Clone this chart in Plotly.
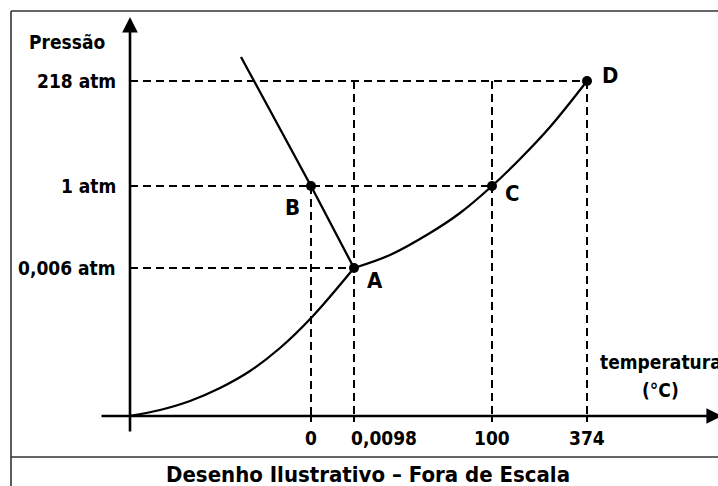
import plotly.graph_objects as go

# ---- data (schematic diagram units: origin at the axes crossing, not to scale) ----
temp_labels = ["0", "0,0098", "100", "374"]
temp_pos = [181, 224, 362, 457]
pressure_labels = ["0,006 atm", "1 atm", "218 atm"]
pressure_pos = [148, 230, 335]

point_names = ["B", "A", "C", "D"]
point_x = [181, 224, 362, 457]
point_y = [230, 148, 230, 335]

# sublimation curve (origin -> A)
sub_x = [0, 30, 60, 90, 120, 150, 182, 224]
sub_y = [0, 6, 15, 28, 45, 68, 99, 148]

# vaporisation curve (A -> C -> D)
vap_x = [224, 260, 300, 330, 362, 390, 420, 457]
vap_y = [148, 161, 183, 203, 230, 257, 289, 335]

# fusion line (A -> B -> beyond)
fusion_x = [224, 181, 111]
fusion_y = [148, 230, 359]

# vertical guide tops (for each temperature) and horizontal guide ends (for each pressure)
vguide_top = [230, 335, 335, 335]
hguide_end = [224, 362, 457]

W, H = 718, 486
OX, OY = 130, 416  # pixel position of the diagram origin


def ux(px):
    return px - OX


def uy(py):
    return OY - py


FONT = "DejaVu Sans Condensed, DejaVu Sans, sans-serif"
DASH = "8px,5px"

fig = go.Figure()

# dashed guides
for t, top in zip(temp_pos, vguide_top):
    fig.add_trace(go.Scatter(x=[t, t], y=[top, 0], mode="lines",
                             line=dict(color="black", width=2, dash=DASH),
                             hoverinfo="skip", showlegend=False))
for p, end in zip(pressure_pos, hguide_end):
    fig.add_trace(go.Scatter(x=[0, end], y=[p, p], mode="lines",
                             line=dict(color="black", width=2, dash=DASH),
                             hoverinfo="skip", showlegend=False))

# curves
for cx, cy in ((sub_x, sub_y), (vap_x, vap_y)):
    fig.add_trace(go.Scatter(x=cx, y=cy, mode="lines",
                             line=dict(color="black", width=2.3, shape="spline", smoothing=1.0),
                             hoverinfo="skip", showlegend=False))
fig.add_trace(go.Scatter(x=fusion_x, y=fusion_y, mode="lines",
                         line=dict(color="black", width=2.3),
                         hoverinfo="skip", showlegend=False))

# points
fig.add_trace(go.Scatter(x=point_x, y=point_y, mode="markers",
                         marker=dict(color="black", size=10),
                         hoverinfo="skip", showlegend=False))

# small ticks below the x axis
for t in temp_pos:
    fig.add_shape(type="line", x0=t, x1=t, y0=0, y1=-6, xref="x", yref="y",
                  line=dict(color="black", width=2))

# axes (with arrowheads)
fig.add_annotation(x=0, y=uy(17), ax=0, ay=uy(433), xref="x", yref="y",
                   axref="x", ayref="y", text="", showarrow=True,
                   arrowhead=2, arrowsize=1.2, arrowwidth=2.6, arrowcolor="black",
                   standoff=0, startstandoff=0)
fig.add_annotation(x=ux(722), y=0, ax=ux(100), ay=0, xref="x", yref="y",
                   axref="x", ayref="y", text="", showarrow=True,
                   arrowhead=2, arrowsize=1.2, arrowwidth=2.6, arrowcolor="black",
                   standoff=0, startstandoff=0)

# tick labels
tick_font = dict(family=FONT, size=19, color="black", weight="bold")
label_shift = [0, 30, 0, 0]
for lab, t, s in zip(temp_labels, temp_pos, label_shift):
    fig.add_annotation(x=t, y=uy(438), text=lab, showarrow=False, xref="x", yref="y",
                       xanchor="center", yanchor="middle", xshift=s, font=tick_font)
for lab, p in zip(pressure_labels, pressure_pos):
    fig.add_annotation(x=ux(118), y=p, text=lab, showarrow=False, xref="x", yref="y",
                       xanchor="right", yanchor="middle", font=tick_font)

# point labels
letter_font = dict(family=FONT, size=22, color="black", weight="bold")
letter_off = [(-19, -21), (21, -12), (20, -7), (23, 6)]
for n, x, y, (dx, dy) in zip(point_names, point_x, point_y, letter_off):
    fig.add_annotation(x=x, y=y, text=n, showarrow=False, xref="x", yref="y",
                       xshift=dx, yshift=dy, font=letter_font)

# axis titles
fig.add_annotation(x=ux(67), y=uy(42), text="Pressão", showarrow=False, xref="x", yref="y",
                   font=tick_font)
fig.add_annotation(x=ux(598), y=uy(362), text="temperatura", showarrow=False, xref="x",
                   yref="y", xanchor="left", font=tick_font)
fig.add_annotation(x=ux(660), y=uy(390), text="(°C)", showarrow=False, xref="x", yref="y",
                   font=tick_font)

# caption
fig.add_annotation(x=ux(368), y=uy(474), text="Desenho Ilustrativo – Fora de Escala",
                   showarrow=False, xref="x", yref="y",
                   font=dict(family=FONT, size=22, color="black", weight="bold"))

# frame
frame = dict(color="#333333", width=1.6)
fig.add_shape(type="line", x0=ux(11), x1=ux(740), y0=uy(11), y1=uy(11), xref="x", yref="y", line=frame)
fig.add_shape(type="line", x0=ux(11), x1=ux(11), y0=uy(11), y1=uy(500), xref="x", yref="y", line=frame)
fig.add_shape(type="line", x0=ux(11), x1=ux(740), y0=uy(457), y1=uy(457), xref="x", yref="y", line=frame)

fig.update_xaxes(range=[ux(0), ux(W)], visible=False, fixedrange=True)
fig.update_yaxes(range=[uy(H), uy(0)], visible=False, fixedrange=True)
fig.update_layout(width=W, height=H, margin=dict(l=0, r=0, t=0, b=0),
                  plot_bgcolor="white", paper_bgcolor="white", showlegend=False)

fig.write_html("out.html", config={"displayModeBar": False},
               post_script="document.body.style.margin='0';document.body.style.overflow='hidden';")
